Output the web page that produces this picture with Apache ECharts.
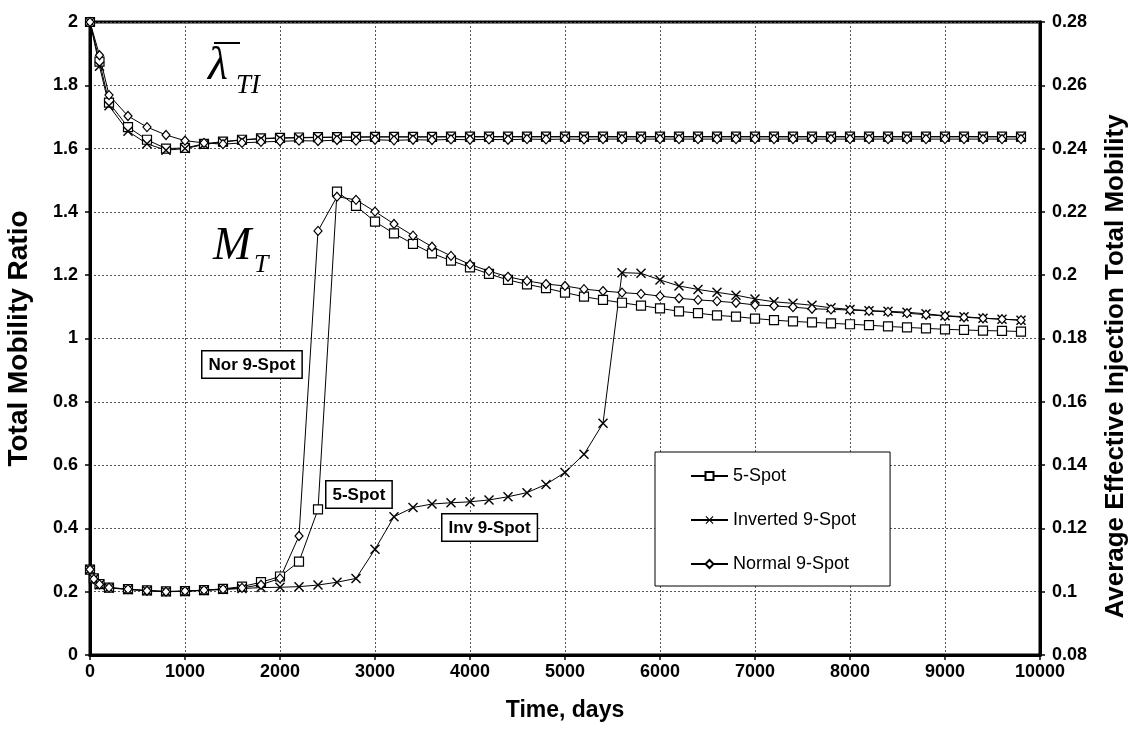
<!DOCTYPE html>
<html>
<head>
<meta charset="utf-8">
<script src="https://cdn.jsdelivr.net/npm/echarts@6/dist/echarts.min.js"></script>
<style>
  html, body { margin: 0; padding: 0; background: #fff; }
  #chart { width: 1135px; height: 739px; }
</style>
</head>
<body>
<div id="chart"></div>
<script>
// time axis, days
const days = [0, 40, 100, 200, 400, 600, 800, 1000, 1200, 1400,
  1600, 1800, 2000, 2200, 2400, 2600, 2800, 3000, 3200, 3400,
  3600, 3800, 4000, 4200, 4400, 4600, 4800, 5000, 5200, 5400,
  5600, 5800, 6000, 6200, 6400, 6600, 6800, 7000, 7200, 7400,
  7600, 7800, 8000, 8200, 8400, 8600, 8800, 9000, 9200, 9400,
  9600, 9800];

// total mobility ratio M_T (left axis)
const mt5Spot = [0.27, 0.242, 0.224, 0.213, 0.208, 0.204, 0.201, 0.202, 0.205, 0.209,
  0.216, 0.23, 0.248, 0.295, 0.46, 1.464, 1.419, 1.369, 1.332, 1.299,
  1.269, 1.246, 1.225, 1.204, 1.185, 1.171, 1.159, 1.145, 1.132, 1.122,
  1.113, 1.104, 1.095, 1.086, 1.08, 1.073, 1.069, 1.063, 1.058, 1.054,
  1.051, 1.048, 1.045, 1.042, 1.038, 1.035, 1.032, 1.029, 1.027, 1.025,
  1.024, 1.022];
const mtInv9 = [0.27, 0.24, 0.222, 0.212, 0.207, 0.203, 0.2, 0.201, 0.204, 0.207,
  0.21, 0.213, 0.214, 0.216, 0.221, 0.23, 0.242, 0.334, 0.437, 0.466,
  0.477, 0.481, 0.484, 0.49, 0.5, 0.513, 0.539, 0.577, 0.634, 0.732,
  1.208, 1.206, 1.185, 1.166, 1.155, 1.146, 1.137, 1.125, 1.116, 1.111,
  1.105, 1.097, 1.092, 1.088, 1.086, 1.083, 1.078, 1.072, 1.069, 1.064,
  1.061, 1.058];
const mtNor9 = [0.27, 0.24, 0.223, 0.213, 0.208, 0.203, 0.2, 0.202, 0.205, 0.208,
  0.212, 0.222, 0.242, 0.376, 1.34, 1.448, 1.438, 1.401, 1.362, 1.325,
  1.29, 1.261, 1.234, 1.213, 1.195, 1.182, 1.172, 1.166, 1.156, 1.15,
  1.145, 1.141, 1.134, 1.127, 1.122, 1.118, 1.113, 1.106, 1.103, 1.099,
  1.094, 1.092, 1.09, 1.087, 1.084, 1.08, 1.075, 1.071, 1.067, 1.064,
  1.061, 1.058];

// average effective injection total mobility (right axis)
const lam5Spot = [0.28, null, 0.2675, 0.2545, 0.2468, 0.2428, 0.24, 0.2402, 0.2415, 0.2422,
  0.2428, 0.2432, 0.2434, 0.2435, 0.2436, 0.2436, 0.2437, 0.2437, 0.2437, 0.2437,
  0.2437, 0.2438, 0.2438, 0.2438, 0.2438, 0.2438, 0.2438, 0.2438, 0.2438, 0.2438,
  0.2438, 0.2438, 0.2438, 0.2438, 0.2438, 0.2438, 0.2438, 0.2438, 0.2438, 0.2438,
  0.2438, 0.2438, 0.2438, 0.2438, 0.2438, 0.2438, 0.2438, 0.2438, 0.2438, 0.2438,
  0.2438, 0.2438];
const lamInv9 = [0.28, null, 0.266, 0.2535, 0.2455, 0.2415, 0.2395, 0.24, 0.2413, 0.2421,
  0.2427, 0.2431, 0.2433, 0.2434, 0.2435, 0.2436, 0.2436, 0.2437, 0.2437, 0.2437,
  0.2437, 0.2437, 0.2437, 0.2437, 0.2437, 0.2437, 0.2437, 0.2437, 0.2437, 0.2437,
  0.2437, 0.2437, 0.2437, 0.2437, 0.2437, 0.2437, 0.2437, 0.2437, 0.2437, 0.2437,
  0.2437, 0.2437, 0.2437, 0.2437, 0.2437, 0.2437, 0.2437, 0.2437, 0.2437, 0.2437,
  0.2437, 0.2437];
const lamNor9 = [0.28, null, 0.2695, 0.2569, 0.2503, 0.2468, 0.2443, 0.2425, 0.2418, 0.2414,
  0.2418, 0.2421, 0.2423, 0.2425, 0.2424, 0.2427, 0.2425, 0.2428, 0.2426, 0.2428,
  0.2427, 0.2429, 0.2428, 0.2429, 0.2428, 0.243, 0.2429, 0.243, 0.2429, 0.243,
  0.243, 0.243, 0.243, 0.243, 0.243, 0.243, 0.243, 0.243, 0.243, 0.243,
  0.243, 0.243, 0.243, 0.243, 0.243, 0.243, 0.243, 0.243, 0.243, 0.243,
  0.243, 0.243];

const seriesNames = ['5-Spot', 'Inverted 9-Spot', 'Normal 9-Spot'];

const FONT = "'Liberation Sans', Arial, sans-serif";
const SERIF = "'Liberation Serif', 'DejaVu Serif', serif";
const crossPath = 'path://M0,1L1,0L5,4L9,0L10,1L6,5L10,9L9,10L5,6L1,10L0,9L4,5Z';

function pairs(vals) {
  const out = [];
  vals.forEach((v, i) => { if (v !== null) out.push([days[i], v]); });
  return out;
}

function makeSeries(name, vals, axis, symbol, size, hollow) {
  return {
    name: name,
    type: 'line',
    yAxisIndex: axis,
    data: pairs(vals),
    symbol: symbol,
    symbolSize: size,
    showAllSymbol: true,
    lineStyle: { color: '#000', width: 1 },
    itemStyle: hollow
      ? { color: '#fff', borderColor: '#000', borderWidth: 1.2 }
      : { color: '#000', borderWidth: 0 },
    emphasis: { disabled: true },
    z: 3
  };
}

const axisLabel = { color: '#000', fontFamily: FONT, fontWeight: 'bold', fontSize: 18 };
const gridLine = { show: true, lineStyle: { color: '#555', type: [2, 2], width: 1 } };

const chart = echarts.init(document.getElementById('chart'));
chart.setOption({
  animation: false,
  backgroundColor: '#fff',
  grid: {
    left: 90, right: 95, top: 22, bottom: 84,
    containLabel: false, outerBoundsMode: 'none',
    show: true, borderColor: '#000', borderWidth: 3
  },
  legend: {
    data: seriesNames,
    orient: 'vertical',
    left: 655,
    top: 452,
    padding: [15, 34, 13, 35],
    itemGap: 26,
    itemWidth: 37,
    itemHeight: 10,
    backgroundColor: '#fff',
    borderColor: '#000',
    borderWidth: 1,
    textStyle: { color: '#000', fontFamily: FONT, fontSize: 18 }
  },
  xAxis: {
    type: 'value',
    min: 0,
    max: 10000,
    interval: 1000,
    name: 'Time, days',
    nameLocation: 'middle',
    nameGap: 44,
    nameTextStyle: { color: '#000', fontFamily: FONT, fontWeight: 'bold', fontSize: 23 },
    axisLine: { lineStyle: { color: '#000', width: 3 } },
    axisTick: { lineStyle: { color: '#000', width: 1.5 }, length: 5 },
    axisLabel: Object.assign({ margin: 8, formatter: v => String(v) }, axisLabel),
    splitLine: gridLine
  },
  yAxis: [
    {
      type: 'value',
      min: 0,
      max: 2,
      interval: 0.2,
      name: 'Total Mobility Ratio',
      nameLocation: 'middle',
      nameRotate: 90,
      nameGap: 57,
      nameTextStyle: { color: '#000', fontFamily: FONT, fontWeight: 'bold', fontSize: 28 },
      axisLine: { show: true, lineStyle: { color: '#000', width: 3 } },
      axisTick: { show: true, lineStyle: { color: '#000', width: 1.5 }, length: 5 },
      axisLabel: Object.assign({ margin: 12 }, axisLabel),
      splitLine: gridLine
    },
    {
      type: 'value',
      position: 'right',
      min: 0.08,
      max: 0.28,
      interval: 0.02,
      name: 'Average Effective Injection Total Mobility',
      nameLocation: 'middle',
      nameRotate: 90,
      nameGap: 63,
      nameTextStyle: { color: '#000', fontFamily: FONT, fontWeight: 'bold', fontSize: 26, padding: [0, 56, 0, 0] },
      axisLine: { show: true, lineStyle: { color: '#000', width: 3 } },
      axisTick: { show: true, lineStyle: { color: '#000', width: 1.5 }, length: 5 },
      axisLabel: Object.assign({ margin: 12 }, axisLabel),
      splitLine: { show: false }
    }
  ],
  series: [
    makeSeries(seriesNames[0], mt5Spot, 0, 'rect', 9, true),
    makeSeries(seriesNames[1], mtInv9, 0, crossPath, 10, false),
    makeSeries(seriesNames[2], mtNor9, 0, 'diamond', [8, 9], true),
    makeSeries(seriesNames[0], lam5Spot, 1, 'rect', 9, true),
    makeSeries(seriesNames[1], lamInv9, 1, crossPath, 10, false),
    makeSeries(seriesNames[2], lamNor9, 1, 'diamond', [8, 9], true)
  ],
  graphic: [
    // lambda-bar TI label
    { type: 'text', left: 208, top: 44, z: 10,
      style: { text: 'λ', fill: '#000', font: 'italic 46px ' + SERIF } },
    { type: 'line', z: 10, shape: { x1: 214, y1: 43, x2: 240, y2: 43 },
      style: { stroke: '#000', lineWidth: 2 } },
    { type: 'text', left: 236, top: 72, z: 10,
      style: { text: 'TI', fill: '#000', font: 'italic 27px ' + SERIF } },
    // M_T label
    { type: 'text', left: 213, top: 224, z: 10,
      style: { text: 'M', fill: '#000', font: 'italic 46px ' + SERIF } },
    { type: 'text', left: 254, top: 252, z: 10,
      style: { text: 'T', fill: '#000', font: 'italic 26px ' + SERIF } },
    // boxed series labels
    { type: 'text', left: 201, top: 350, z: 10,
      style: { text: 'Nor 9-Spot', fill: '#000', font: 'bold 17px ' + FONT,
        backgroundColor: '#fff', borderColor: '#000', borderWidth: 1.5, padding: [5, 6, 4, 6] } },
    { type: 'text', left: 325, top: 480, z: 10,
      style: { text: '5-Spot', fill: '#000', font: 'bold 17px ' + FONT,
        backgroundColor: '#fff', borderColor: '#000', borderWidth: 1.5, padding: [5, 6, 4, 6] } },
    { type: 'text', left: 441, top: 513, z: 10,
      style: { text: 'Inv 9-Spot', fill: '#000', font: 'bold 17px ' + FONT,
        backgroundColor: '#fff', borderColor: '#000', borderWidth: 1.5, padding: [5, 6, 4, 6] } }
  ]
});
</script>
</body>
</html>
